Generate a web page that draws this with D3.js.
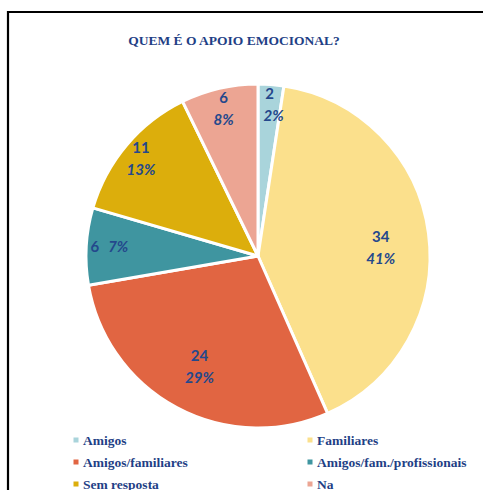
<!DOCTYPE html>
<html><head><meta charset="utf-8">
<script src="https://cdn.jsdelivr.net/npm/d3@7"></script>
<style>body{margin:0;background:#fff}svg{display:block}</style>
</head><body>
<svg id="c" width="483" height="490"></svg>
<script>
const categories = ["Amigos","Familiares","Amigos/familiares","Amigos/fam./profissionais","Sem resposta","Na"];
const values = [2,34,24,6,11,6];
const percentLabels = ["2%","41%","29%","7%","13%","8%"];
const colors = ["#a9d4db","#fbe08c","#e16542","#3f95a0","#dcae0c","#eca593"];
const title = "QUEM É O APOIO EMOCIONAL?";

const svg = d3.select("#c");
// frame
svg.append("path").attr("d","M8,490 L8,12 L483,12").attr("fill","none").attr("stroke","#000").attr("stroke-width",2.2);

svg.append("text").attr("x",234).attr("y",45).attr("text-anchor","middle")
  .attr("font-family","Liberation Serif, serif").attr("font-weight","bold").attr("font-size",13.5)
  .attr("fill","#1f3f86").text(title);

const cx = 258, cy = 256, r = 172;
const pie = d3.pie().sort(null).value(d=>d)(values);
const arc = d3.arc().innerRadius(0).outerRadius(r);
const g = svg.append("g").attr("transform",`translate(${cx},${cy})`);
g.selectAll("path").data(pie).join("path")
  .attr("d",arc).attr("fill",(d,i)=>colors[i])
  .attr("stroke","#fff").attr("stroke-width",3).attr("stroke-linejoin","round");

const total = d3.sum(values);
const lab = g.append("g").attr("font-family","Lato, 'Open Sans', sans-serif").attr("font-weight","bold").attr("font-size",15).attr("fill","#24488c");
pie.forEach((d,i)=>{
  const frac = values[i]/total;
  const rr = frac < 0.2 ? r*0.89 : r*0.72;
  const a = (d.startAngle+d.endAngle)/2;
  const x = rr*Math.sin(a), y = -rr*Math.cos(a);
  const horizontal = Math.abs(Math.cos(a)) < 0.15 && frac < 0.2;
  if (horizontal) {
    lab.append("text").attr("x",x-6).attr("y",y+5).attr("text-anchor","end").text(values[i]);
    lab.append("text").attr("x",x+3).attr("y",y+5).attr("text-anchor","start").attr("font-style","italic").text(percentLabels[i]);
  } else {
    const dy = frac > 0.35 ? 6 : 0;
    lab.append("text").attr("x",x).attr("y",y-4+dy).attr("text-anchor","middle").text(values[i]);
    lab.append("text").attr("x",x+(frac<0.05?4:0)).attr("y",y+18+dy).attr("text-anchor","middle").attr("font-style","italic").text(percentLabels[i]);
  }
});

// legend
const leg = svg.append("g").attr("font-family","Liberation Serif, serif").attr("font-weight","bold").attr("font-size",13.5).attr("fill","#1f3f86");
categories.forEach((c,i)=>{
  const col = i%2, row = Math.floor(i/2);
  const x = col===0 ? 76 : 310, y = 440 + row*22;
  leg.append("rect").attr("x",x-2.5).attr("y",y-2.5).attr("width",5).attr("height",5).attr("fill",colors[i]);
  leg.append("text").attr("x",x+7).attr("y",y+4.5).text(c);
});
</script>
</body></html>
